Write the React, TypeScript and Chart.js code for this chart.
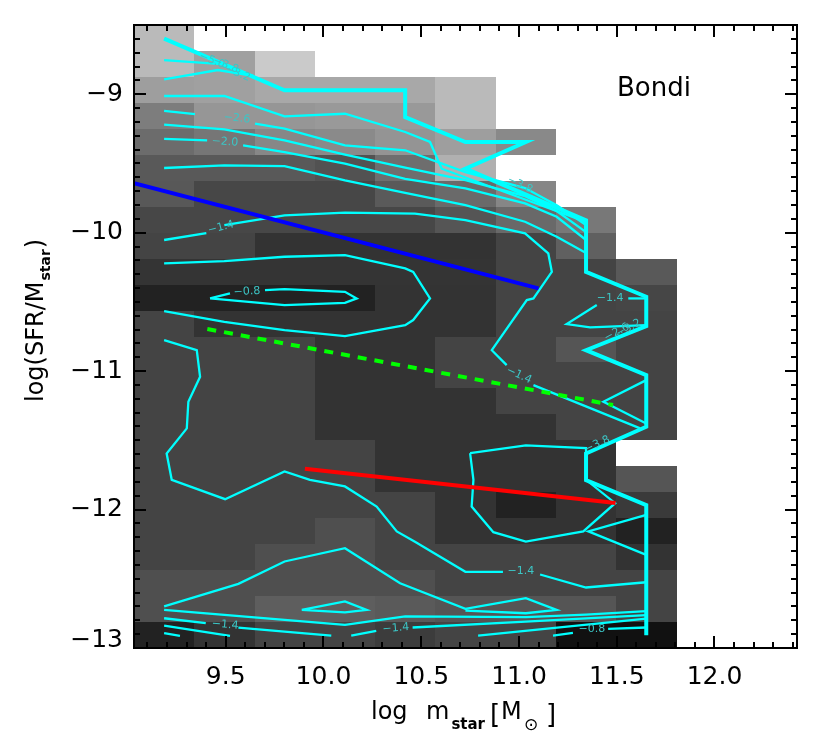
import React, { useEffect, useRef } from "react";
import { Chart, registerables } from "chart.js";
Chart.register(...registerables);

// ---------- axes ----------
const xRange = [9.031, 12.422];
const yRange = [-13, -8.5];
const xMajorTicks = [9.5, 10.0, 10.5, 11.0, 11.5, 12.0];
const yMajorTicks = [-13, -12, -11, -10, -9];

// ---------- 2D histogram (grey shade per bin, top row first) ----------
const xBinEdges = [9.031, 9.339, 9.648, 9.956, 10.264, 10.572, 10.881, 11.189, 11.497, 11.806];
const yBinEdges = [
  -13, -12.8125, -12.625, -12.4375, -12.25, -12.0625, -11.875, -11.6875, -11.5, -11.3125,
  -11.125, -10.9375, -10.75, -10.5625, -10.375, -10.1875, -10, -9.8125, -9.625, -9.4375,
  -9.25, -9.0625, -8.875, -8.6875, -8.5,
];
const cellShade: (number | null)[][] = [
  [186, null, null, null, null, null, null, null, null],
  [186, 160, 202, null, null, null, null, null, null],
  [158, 160, 168, 168, 168, 186, null, null, null],
  [125, 150, 150, 153, 153, 186, null, null, null],
  [108, 118, 135, 138, 148, 158, 137, null, null],
  [89, 89, 89, 82, 110, 176, null, null, null],
  [88, 71, 71, 71, 90, 106, 134, null, null],
  [71, 71, 71, 71, 71, 85, 105, 120, null],
  [68, 68, 51, 51, 51, 51, 68, 96, null],
  [52, 52, 52, 52, 52, 52, 68, 68, 89],
  [34, 34, 34, 34, 51, 51, 68, 68, 70],
  [68, 51, 51, 51, 51, 51, 68, 68, 68],
  [68, 68, 68, 51, 51, 68, 68, 85, 68],
  [68, 68, 68, 51, 51, 68, 68, 68, 68],
  [68, 68, 68, 51, 51, 51, 68, 68, 68],
  [68, 68, 68, 51, 51, 51, 51, 68, 68],
  [68, 68, 68, 68, 51, 51, 51, 51, null],
  [68, 68, 68, 68, 51, 51, 51, 51, 85],
  [68, 68, 68, 68, 68, 51, 34, 51, 58],
  [68, 68, 68, 79, 68, 51, 51, 51, 34],
  [68, 68, 79, 79, 68, 68, 68, 68, 51],
  [79, 79, 79, 79, 79, 68, 68, 68, 68],
  [79, 79, 94, 94, 90, 85, 85, 85, 68],
  [34, 51, 68, 68, 60, 68, 68, 17, 17],
];

// ---------- contours (null = gap for a label) ----------
type P = [number, number] | null;
const contourOuter: P[] = [
  [9.185, -8.599], [9.801, -8.972], [10.418, -8.972], [10.418, -9.165], [10.726, -9.345],
  [11.035, -9.345], [10.726, -9.538], [11.343, -9.911], [11.343, -10.283], [11.651, -10.463],
  [11.651, -10.675], [11.343, -10.849], [11.651, -11.029], [11.651, -11.402], [11.343, -11.595],
  [11.343, -11.788], [11.651, -11.968], [11.651, -12.908],
];
const contourB: P[] = [[9.185, -8.753], [9.48, -8.782], [9.64, -8.868]];
const contourC: P[] = [[9.185, -8.892], [9.46, -8.825], [9.64, -8.868]];
const contourD: P[] = [
  [9.185, -9.013], [9.493, -9.013], [9.801, -9.16], [10.11, -9.141], [10.418, -9.273],
  [10.545, -9.345], [10.605, -9.538], [11.343, -9.923],
];
const contourE: P[] = [
  [9.185, -9.121], [9.343, -9.143], null, [9.65, -9.213], [9.801, -9.249], [10.11, -9.369],
  [10.418, -9.405], [10.726, -9.562], [11.031, -9.678], [11.193, -9.801], [11.343, -9.945],
];
const contourF: P[] = [
  [9.185, -9.22], [9.493, -9.254], [9.801, -9.333], [10.11, -9.437], [10.418, -9.531],
  [10.726, -9.62], [11.031, -9.736], [11.193, -9.844], [11.343, -9.996],
];
const contourG: P[] = [
  [9.185, -9.322], [9.405, -9.333], null, [9.589, -9.369], [9.801, -9.418], [10.11, -9.502],
  [10.418, -9.611], [10.726, -9.68], [11.031, -9.788], [11.193, -9.885], [11.343, -10.053],
];
const contourH: P[] = [
  [9.185, -9.533], [9.493, -9.514], [9.801, -9.519], [10.11, -9.622], [10.418, -9.712],
  [10.726, -9.801], [11.031, -9.921], [11.193, -10.03], [11.343, -10.147],
];
const contourI: P[] = [
  [9.185, -10.053], [9.401, -10.003], null, [9.493, -9.945], [9.801, -9.875], [10.11, -9.855],
  [10.468, -9.862], [10.726, -9.909], [11.031, -10.005], [11.15, -10.15], [11.168, -10.283],
  [11.074, -10.475], [11.04, -10.487], [10.861, -10.849], [10.937, -10.957], null,
  [11.074, -11.101], [11.62, -11.414],
];
const contourJ: P[] = [
  [9.42, -10.475], [9.522, -10.439], null, [9.701, -10.415], [9.801, -10.408], [10.11, -10.427],
  [10.17, -10.475], [10.11, -10.507], [9.801, -10.523], [9.42, -10.475],
];
const contourK: P[] = [
  [9.185, -10.222], [9.493, -10.205], [9.801, -10.174], [10.11, -10.162], [10.418, -10.258],
  [10.459, -10.283], [10.545, -10.475], [10.459, -10.631], [10.418, -10.668], [10.11, -10.747],
  [9.801, -10.704], [9.493, -10.644], [9.185, -10.566],
];
const contourM: P[] = [
  [9.185, -10.776], [9.352, -10.849], [9.369, -11.041], [9.309, -11.222], [9.301, -11.414],
  [9.198, -11.595], [9.224, -11.785], [9.497, -11.925], [9.801, -11.725], [9.931, -11.785],
  [10.11, -11.833], [10.272, -11.978], [10.375, -12.158], [10.468, -12.233], [10.726, -12.45],
  [10.918, -12.45], null, [11.108, -12.469], [11.343, -12.563], [11.651, -12.525],
];
const contourN: P[] = [
  [10.75, -11.592], [11.035, -11.537], [11.343, -11.556], [11.343, -11.785], [11.492, -11.954],
  [11.329, -12.158], [11.035, -12.231], [10.869, -12.163], [10.758, -11.978], [10.767, -11.785],
  [10.75, -11.592],
];
const contourT1: P[] = [[11.651, -12.038], [11.355, -12.158], [11.651, -12.327]];
const contourT2: P[] = [[11.651, -11.065], [11.432, -11.222], [11.651, -11.378]];
const contourT3a: P[] = [[11.559, -10.475], [11.651, -10.475]];
const contourT3b: P[] = [[11.398, -10.523], [11.244, -10.66], [11.364, -10.684], [11.651, -10.668]];
const contourP: P[] = [
  [9.185, -12.7], [9.565, -12.537], [9.801, -12.375], [10.11, -12.279], [10.392, -12.532],
  [10.726, -12.717], [11.035, -12.64], [11.193, -12.725], [11.035, -12.749], [10.726, -12.73],
];
const contourQ: P[] = [
  [9.185, -12.725], [9.801, -12.797], [10.11, -12.833], [10.418, -12.772], [11.035, -12.777],
  [11.343, -12.759], [11.651, -12.734],
];
const contourU: P[] = [[9.889, -12.725], [10.11, -12.664], [10.221, -12.725], [10.11, -12.743], [9.889, -12.725]];
const contourR: P[] = [
  [9.185, -12.785], [9.398, -12.821], null, [9.565, -12.853], [9.801, -12.881], [10.04, -12.91],
  null, [10.142, -12.91], [10.27, -12.876], null, [10.456, -12.852], [11.035, -12.809], [11.651, -12.762],
];
const contourX: P[] = [[10.791, -12.91], [11.651, -12.788]];
const contourV: P[] = [[9.185, -12.838], [9.522, -12.913]];
const contourW: P[] = [[9.185, -12.893], [9.266, -12.913]];
const contourY: P[] = [[11.174, -12.91], [11.276, -12.89], null, [11.456, -12.862], [11.651, -12.852]];

const thinContours: P[][] = [
  contourB, contourC, contourD, contourE, contourF, contourG, contourH, contourI, contourJ,
  contourK, contourM, contourN, contourT1, contourT2, contourT3a, contourT3b, contourP, contourQ,
  contourU, contourR, contourX, contourV, contourW, contourY,
];

// contour labels: x, y, text, rotation (deg)
const contourLabels: [number, number, string, number][] = [
  [9.43, -8.757, "\u22125.0", 22],
  [9.5, -8.79, "\u22123.8", 22],
  [9.56, -8.85, "\u22123.2", 22],
  [9.558, -9.175, "\u22122.6", 6],
  [9.496, -9.345, "\u22122.0", 4],
  [9.476, -9.962, "\u22121.4", -14],
  [9.609, -10.426, "\u22120.8", -3],
  [11.0, -11.03, "\u22121.4", 25],
  [11.466, -10.475, "\u22121.4", 0],
  [11.5, -10.72, "\u22122.6", -28],
  [11.56, -10.69, "\u22123.2", -28],
  [11.4, -11.53, "\u22123.8", -25],
  [11.005, -9.655, "\u22123.8", 25],
  [9.497, -12.833, "\u22121.4", 5],
  [10.37, -12.857, "\u22121.4", -5],
  [11.01, -12.445, "\u22121.4", 0],
  [11.373, -12.862, "\u22120.8", 0],
];

// ---------- fitted relations ----------
const blueLine: P[] = [[9.031, -9.643], [11.1, -10.402]];
const greenLine: P[] = [[9.406, -10.696], [11.481, -11.245]];
const redLine: P[] = [[9.905, -11.705], [11.494, -11.953]];

const toData = (pts: P[]) => {
  const out: { x: number; y: number | null }[] = [];
  let lastX = pts[0] ? pts[0][0] : 0;
  pts.forEach((p) => {
    if (p) {
      out.push({ x: p[0], y: p[1] });
      lastX = p[0];
    } else out.push({ x: lastX, y: null });
  });
  return out;
};

const FONT = "'DejaVu Sans', sans-serif";

const heatmapPlugin = {
  id: "heatmap",
  beforeDatasetsDraw(chart: any) {
    const { ctx, scales } = chart;
    const xs = scales.x, ys = scales.y;
    const n = cellShade.length;
    ctx.save();
    for (let r = 0; r < n; r++) {
      const py0 = Math.round(ys.getPixelForValue(yBinEdges[n - r]));
      const py1 = Math.round(ys.getPixelForValue(yBinEdges[n - r - 1]));
      cellShade[r].forEach((g, c) => {
        if (g == null) return;
        const px0 = Math.round(xs.getPixelForValue(xBinEdges[c]));
        const px1 = Math.round(xs.getPixelForValue(xBinEdges[c + 1]));
        ctx.fillStyle = `rgb(${g},${g},${g})`;
        ctx.fillRect(px0, py0, px1 - px0, py1 - py0);
      });
    }
    ctx.restore();
  },
};

const labelsPlugin = {
  id: "contourLabels",
  afterDatasetsDraw(chart: any) {
    const { ctx, scales } = chart;
    ctx.save();
    ctx.fillStyle = "#3cc6c6";
    ctx.font = `11px ${FONT}`;
    ctx.textAlign = "center";
    ctx.textBaseline = "middle";
    contourLabels.forEach(([x, y, t, rot]) => {
      ctx.save();
      ctx.translate(scales.x.getPixelForValue(x), scales.y.getPixelForValue(y));
      ctx.rotate((rot * Math.PI) / 180);
      ctx.fillText(t, 0, 0);
      ctx.restore();
    });
    ctx.restore();
  },
};

const framePlugin = {
  id: "frame",
  afterDraw(chart: any) {
    const { ctx, chartArea: a, scales } = chart;
    const xs = scales.x, ys = scales.y;
    ctx.save();
    ctx.strokeStyle = "#000";
    ctx.lineWidth = 2;
    ctx.strokeRect(a.left, a.top, a.right - a.left, a.bottom - a.top);
    ctx.beginPath();
    for (let i = 91; i <= 124; i++) {
      const v = i / 10;
      const major = xMajorTicks.some((m) => Math.abs(m - v) < 1e-6);
      const len = major ? 12 : 6;
      const px = Math.round(xs.getPixelForValue(v));
      ctx.moveTo(px, a.bottom);
      ctx.lineTo(px, a.bottom - len);
      ctx.moveTo(px, a.top);
      ctx.lineTo(px, a.top + len);
    }
    for (let i = -129; i <= -86; i++) {
      const v = i / 10;
      const major = yMajorTicks.some((m) => Math.abs(m - v) < 1e-6);
      const len = major ? 12 : 6;
      const py = Math.round(ys.getPixelForValue(v));
      ctx.moveTo(a.left, py);
      ctx.lineTo(a.left + len, py);
      ctx.moveTo(a.right, py);
      ctx.lineTo(a.right - len, py);
    }
    ctx.stroke();

    // panel label
    ctx.fillStyle = "#000";
    ctx.font = `26px ${FONT}`;
    ctx.textAlign = "left";
    ctx.textBaseline = "alphabetic";
    ctx.fillText("Bondi", 617, 96);

    // x title: log m_star [M_sun]
    const by = 719;
    ctx.font = `24px ${FONT}`;
    ctx.fillText("log", 371, by);
    ctx.fillText("m", 426, by);
    let cx = 426 + ctx.measureText("m").width + 2;
    ctx.font = `bold 15px ${FONT}`;
    ctx.fillText("star", cx, by + 10);
    ctx.font = `26px ${FONT}`;
    ctx.fillText("[", 490, by + 4);
    ctx.font = `24px ${FONT}`;
    ctx.fillText("M", 501, by);
    ctx.font = `17px ${FONT}`;
    ctx.fillText("\u2299", 524, by + 11);
    ctx.font = `26px ${FONT}`;
    ctx.fillText("]", 546, by + 4);

    // y title: log(SFR/M_star)
    ctx.save();
    ctx.translate(43, 402);
    ctx.rotate(-Math.PI / 2);
    ctx.font = `24px ${FONT}`;
    cx = 0;
    const main1 = "log(SFR/M";
    ctx.fillText(main1, cx, 0);
    cx += ctx.measureText(main1).width + 1;
    ctx.font = `bold 14px ${FONT}`;
    ctx.fillText("star", cx, 7);
    cx += ctx.measureText("star").width + 1;
    ctx.font = `24px ${FONT}`;
    ctx.fillText(")", cx, 0);
    ctx.restore();

    ctx.restore();
  },
};

export default function App() {
  const ref = useRef<HTMLCanvasElement | null>(null);
  useEffect(() => {
    if (!ref.current) return;
    const contourSets = thinContours.map((pts) => ({
      data: toData(pts),
      showLine: true,
      borderColor: "#00ffff",
      borderWidth: 2.3,
      pointRadius: 0,
      spanGaps: false,
      fill: false,
    }));
    const chart = new Chart(ref.current, {
      type: "scatter",
      data: {
        datasets: [
          { data: toData(blueLine), showLine: true, borderColor: "#0000ff", borderWidth: 4, pointRadius: 0 },
          { data: toData(greenLine), showLine: true, borderColor: "#00ff00", borderWidth: 4, borderDash: [9, 8], pointRadius: 0 },
          { data: toData(redLine), showLine: true, borderColor: "#ff0000", borderWidth: 4, pointRadius: 0 },
          { data: toData(contourOuter), showLine: true, borderColor: "#00ffff", borderWidth: 4, pointRadius: 0 },
          ...contourSets,
        ] as any,
      },
      options: {
        responsive: false,
        animation: false,
        devicePixelRatio: 1,
        layout: { padding: { left: 0, right: 33, top: 25, bottom: 0 } },
        plugins: { legend: { display: false }, tooltip: { enabled: false } },
        elements: { line: { tension: 0, borderJoinStyle: "miter" as any } },
        scales: {
          x: {
            type: "linear",
            min: xRange[0],
            max: xRange[1],
            grid: { display: false, drawTicks: false },
            border: { display: false },
            afterBuildTicks: (s: any) => {
              s.ticks = xMajorTicks.map((v) => ({ value: v }));
            },
            afterFit: (s: any) => {
              s.height = 107;
            },
            ticks: {
              autoSkip: false,
              maxRotation: 0,
              padding: 14,
              color: "#000",
              font: { family: FONT, size: 25 },
              callback: (v: any) => Number(v).toFixed(1),
            },
          },
          y: {
            type: "linear",
            min: yRange[0],
            max: yRange[1],
            grid: { display: false, drawTicks: false },
            border: { display: false },
            afterBuildTicks: (s: any) => {
              s.ticks = yMajorTicks.map((v) => ({ value: v }));
            },
            afterFit: (s: any) => {
              s.width = 134;
            },
            ticks: {
              autoSkip: false,
              padding: 11,
              color: "#000",
              font: { family: FONT, size: 25, lineHeight: 0.64 },
              callback: (v: any) => {
                const t = Number(v) < 0 ? "\u2212" + Math.abs(Number(v)) : String(v);
                return Number(v) === yRange[0] ? [t, ""] : t;
              },
            },
          },
        },
      } as any,
      plugins: [heatmapPlugin, labelsPlugin, framePlugin],
    });
    return () => chart.destroy();
  }, []);
  return (
    <div style={{ position: "absolute", left: 0, top: 0, width: 830, height: 755, background: "#fff" }}>
      <canvas ref={ref} width={830} height={755} style={{ width: 830, height: 755, display: "block" }} />
    </div>
  );
}
